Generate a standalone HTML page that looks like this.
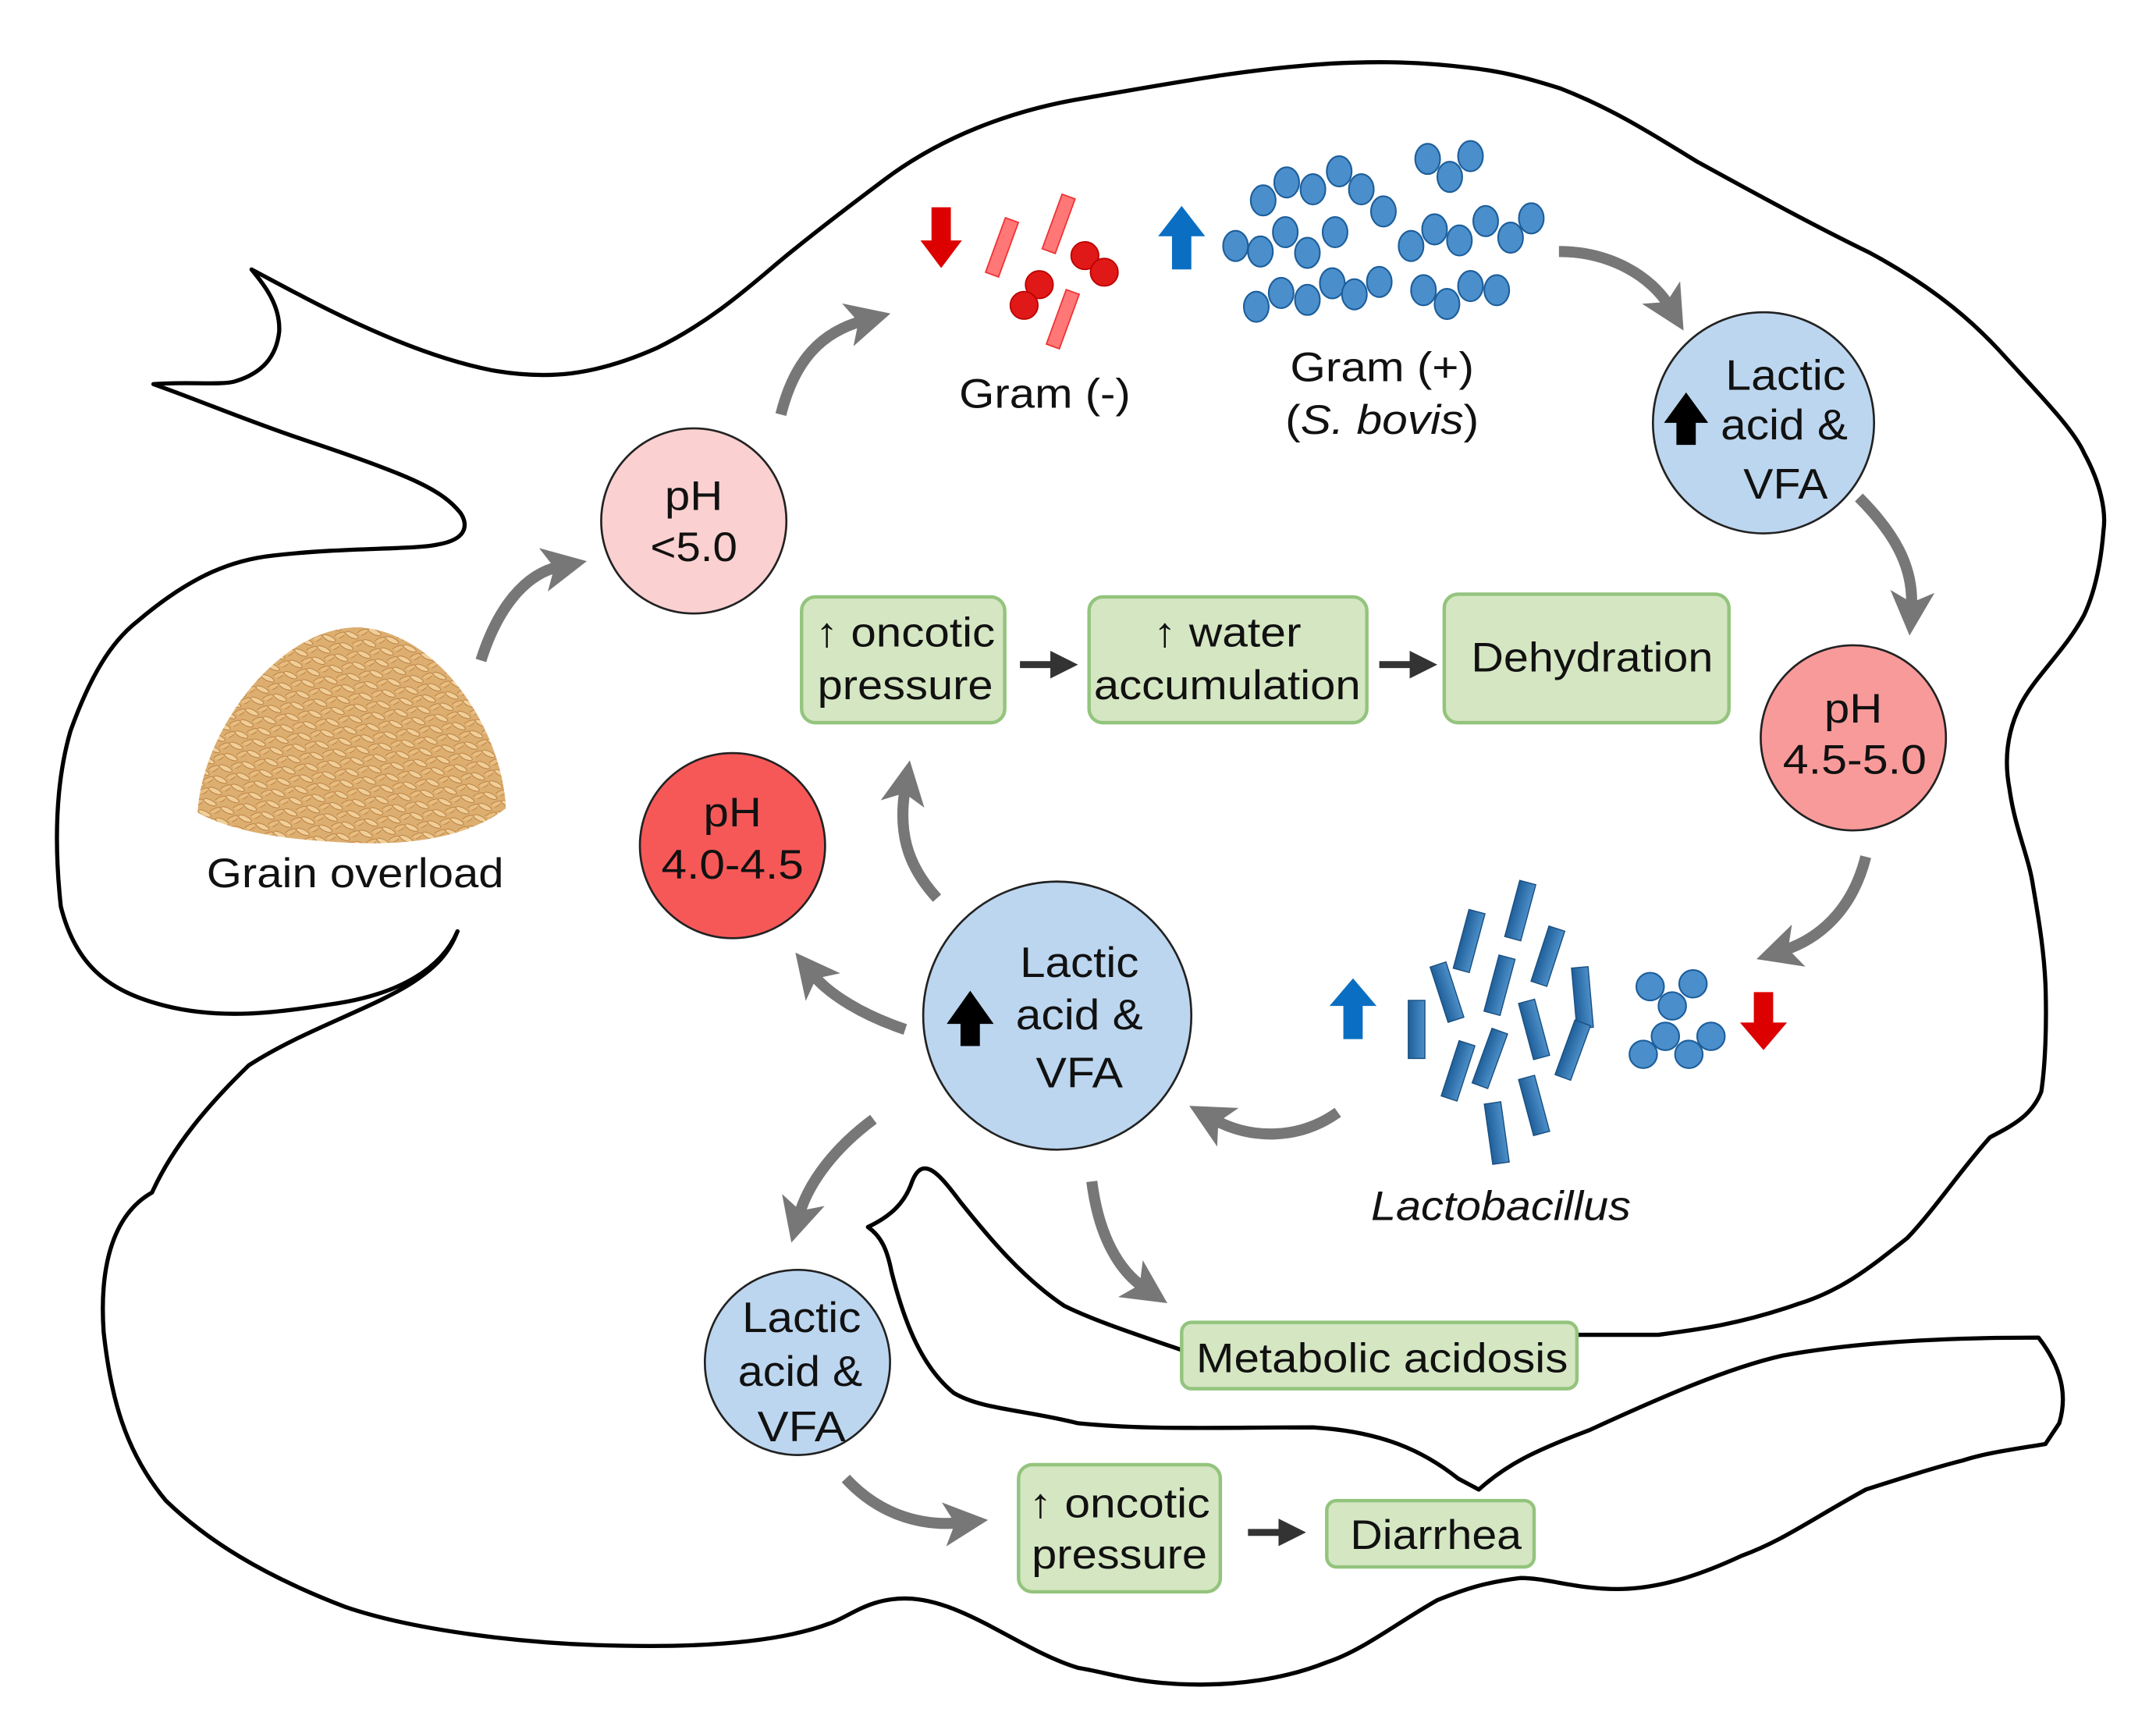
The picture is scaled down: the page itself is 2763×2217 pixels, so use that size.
<!DOCTYPE html>
<html><head><meta charset="utf-8"><style>
html,body{margin:0;padding:0;background:#fff}
svg{display:block}
text{font-family:"Liberation Sans",sans-serif;fill:#111}
</style></head><body>
<svg width="2763" height="2217" viewBox="0 0 1560 1252" preserveAspectRatio="none" xmlns="http://www.w3.org/2000/svg">
<defs>
<marker id="ga" markerWidth="4" markerHeight="4" refX="1.5" refY="2" orient="auto" markerUnits="strokeWidth"><path d="M0,0 L4,2 L0,4 L1,2 Z" fill="#777"/></marker>
<marker id="ka" markerWidth="4" markerHeight="4" refX="1" refY="2" orient="auto" markerUnits="strokeWidth"><path d="M0,0 L4,2 L0,4 Z" fill="#333"/></marker>
<pattern id="gp" width="14" height="9" patternUnits="userSpaceOnUse" patternTransform="rotate(25)">
<rect width="14" height="9" fill="#dcae70"/>
<ellipse cx="5" cy="3" rx="5" ry="1.8" fill="#f1cf98" stroke="#b57a3c" stroke-width="0.5"/>
<ellipse cx="11" cy="7" rx="4.5" ry="1.7" fill="#e8bd80" stroke="#b57a3c" stroke-width="0.5" transform="rotate(-50 11 7)"/>
</pattern>
<linearGradient id="rod" x1="0" x2="1"><stop offset="0" stop-color="#1f5f9a"/><stop offset="1" stop-color="#4d8fc8"/></linearGradient>
</defs>
<g fill="none" stroke="#000" stroke-width="3" stroke-linejoin="round" stroke-linecap="round">
<path d="M331,674 C320,700 290,720 238,727 C200,733 160,738 120,728 C80,718 55,700 44,656 C38,600 42,560 51,529 C65,490 80,465 99,450 C140,415 170,405 198,402 C250,396 300,398 317,394 C340,390 338,378 333,371 C320,355 300,345 222,319 C180,305 150,292 111,278 C135,276 160,279 170,276 C190,270 200,258 202,240 C203,220 190,205 182,195 C220,215 290,255 356,268 C396,275 430,272 475,252 C520,230 550,200 574,181 C600,160 620,145 640,130 C680,100 730,80 785,71 C850,60 900,50 963,46 C1000,44 1030,45 1063,49 C1090,52 1110,58 1129,64 C1170,80 1200,100 1228,117 C1270,140 1310,162 1353,183 C1390,203 1420,225 1446,253 C1475,285 1500,310 1508,328 C1520,350 1524,370 1522,384 C1520,410 1515,430 1508,445 C1495,470 1472,490 1462,510 C1452,530 1450,550 1454,571 C1458,600 1468,620 1471,641 C1476,670 1479,690 1480,712 C1481,740 1480,770 1477,790 C1470,808 1455,815 1440,823 C1420,845 1400,875 1380,896 C1350,920 1330,935 1300,944 C1260,958 1230,962 1200,966 L1140,966"/>
<path d="M855,977 C820,965 790,955 770,945 C740,925 715,895 695,870 C680,850 668,835 660,855 C655,870 645,880 628,888 C638,895 642,905 645,920 C655,960 668,990 690,1008 C710,1020 740,1020 780,1030 C830,1035 880,1033 950,1033 C1000,1036 1030,1050 1055,1070 L1070,1078 C1090,1060 1110,1050 1150,1035 C1200,1012 1250,990 1290,981 C1340,972 1400,968 1475,968 C1492,990 1496,1010 1490,1030 L1480,1045"/>
<path d="M1480,1045 C1450,1050 1435,1052 1420,1057 C1400,1062 1375,1070 1350,1078 C1310,1100 1290,1115 1260,1126 C1230,1140 1200,1150 1170,1150 C1140,1150 1120,1142 1100,1142 C1075,1145 1060,1150 1040,1158 C1010,1175 985,1195 960,1203 C930,1215 895,1220 860,1219 C820,1218 800,1210 780,1207 C740,1195 700,1160 660,1157 C630,1155 615,1170 600,1175 C560,1190 500,1192 450,1191 C380,1190 300,1180 250,1163 C190,1140 150,1115 120,1086 C90,1050 80,1010 75,964 C72,920 80,880 110,863 C125,830 150,800 180,771 C220,745 270,730 300,710 C315,700 325,690 331,674"/>
</g>
<path d="M143,588 C146,530 200,455 258,454 C318,456 364,530 366,585 C340,605 300,612 255,610 C210,608 170,603 143,588 Z" fill="url(#gp)"/>
<text x="257" y="642" font-size="30" text-anchor="middle" textLength="215" lengthAdjust="spacingAndGlyphs">Grain overload</text>
<g fill="none" stroke="#777" stroke-width="8" marker-end="url(#ga)">
<path d="M348,478 C360,440 380,415 405,410"/>
<path d="M565,300 C575,260 595,240 625,232"/>
<path d="M1128,182 C1165,182 1195,200 1208,222"/>
<path d="M1345,360 C1370,385 1385,410 1383,440"/>
<path d="M1350,620 C1340,660 1315,680 1290,688"/>
<path d="M968,805 C940,825 905,825 878,810"/>
<path d="M655,745 C625,735 600,720 588,705"/>
<path d="M678,650 C655,625 650,600 655,570"/>
<path d="M632,810 C605,830 585,855 578,880"/>
<path d="M790,855 C795,895 810,920 828,932"/>
<path d="M612,1070 C635,1095 665,1105 695,1102"/>
</g>
<g stroke="#333" stroke-width="5" marker-end="url(#ka)">
<line x1="738" y1="481" x2="765" y2="481"/>
<line x1="998" y1="481" x2="1025" y2="481"/>
<line x1="903" y1="1109" x2="930" y2="1109"/>
</g>
<circle cx="502" cy="377" r="67" fill="#fbd0d0" stroke="#222" stroke-width="1.5"/>
<text x="502" y="369" font-size="30" text-anchor="middle" textLength="42" lengthAdjust="spacingAndGlyphs">pH</text>
<text x="502" y="406" font-size="30" text-anchor="middle" textLength="63" lengthAdjust="spacingAndGlyphs">&lt;5.0</text>
<circle cx="1276" cy="306" r="80" fill="#bcd6ef" stroke="#222" stroke-width="1.5"/>
<text x="1292" y="282" font-size="31" text-anchor="middle" textLength="87" lengthAdjust="spacingAndGlyphs">Lactic</text>
<text x="1291" y="318" font-size="31" text-anchor="middle" textLength="92" lengthAdjust="spacingAndGlyphs">acid &amp;</text>
<text x="1292" y="361" font-size="31" text-anchor="middle" textLength="61" lengthAdjust="spacingAndGlyphs">VFA</text>
<path d="M1213,322 h14 v-16 h9 l-16,-22 l-16,22 h9 z" fill="#000"/>
<circle cx="1341" cy="534" r="67" fill="#f99a9a" stroke="#222" stroke-width="1.5"/>
<text x="1341" y="523" font-size="30" text-anchor="middle" textLength="42" lengthAdjust="spacingAndGlyphs">pH</text>
<text x="1342" y="560" font-size="30" text-anchor="middle" textLength="104" lengthAdjust="spacingAndGlyphs">4.5-5.0</text>
<circle cx="530" cy="612" r="67" fill="#f65858" stroke="#222" stroke-width="1.5"/>
<text x="530" y="598" font-size="30" text-anchor="middle" textLength="42" lengthAdjust="spacingAndGlyphs">pH</text>
<text x="530" y="636" font-size="30" text-anchor="middle" textLength="103" lengthAdjust="spacingAndGlyphs">4.0-4.5</text>
<circle cx="765" cy="735" r="97" fill="#bcd6ef" stroke="#222" stroke-width="1.5"/>
<text x="781" y="707" font-size="31" text-anchor="middle" textLength="86" lengthAdjust="spacingAndGlyphs">Lactic</text>
<text x="781" y="745" font-size="31" text-anchor="middle" textLength="92" lengthAdjust="spacingAndGlyphs">acid &amp;</text>
<text x="781" y="787" font-size="31" text-anchor="middle" textLength="63" lengthAdjust="spacingAndGlyphs">VFA</text>
<path d="M695,757 h14 v-16 h10 l-17,-24 l-17,24 h10 z" fill="#000"/>
<circle cx="577" cy="986" r="67" fill="#bcd6ef" stroke="#222" stroke-width="1.5"/>
<text x="580" y="964" font-size="31" text-anchor="middle" textLength="86" lengthAdjust="spacingAndGlyphs">Lactic</text>
<text x="579" y="1003" font-size="31" text-anchor="middle" textLength="90" lengthAdjust="spacingAndGlyphs">acid &amp;</text>
<text x="580" y="1043" font-size="31" text-anchor="middle" textLength="64" lengthAdjust="spacingAndGlyphs">VFA</text>
<g fill="#d5e6c2" stroke="#93c47d" stroke-width="2.5">
<rect x="580" y="432" width="147" height="91" rx="10"/>
<rect x="788" y="432" width="201" height="91" rx="10"/>
<rect x="1045" y="430" width="206" height="93" rx="10"/>
<rect x="855" y="957" width="286" height="48" rx="7"/>
<rect x="737" y="1060" width="146" height="92" rx="10"/>
<rect x="960" y="1086" width="150" height="48" rx="7"/>
</g>
<g font-size="30" text-anchor="middle">
<text x="655" y="468" textLength="130" lengthAdjust="spacingAndGlyphs">↑ oncotic</text><text x="655" y="506" textLength="127" lengthAdjust="spacingAndGlyphs">pressure</text>
<text x="888" y="468" textLength="107" lengthAdjust="spacingAndGlyphs">↑ water</text><text x="888" y="506" textLength="193" lengthAdjust="spacingAndGlyphs">accumulation</text>
<text x="1152" y="486" textLength="175" lengthAdjust="spacingAndGlyphs">Dehydration</text>
<text x="1000" y="993" textLength="269" lengthAdjust="spacingAndGlyphs">Metabolic acidosis</text>
<text x="810" y="1098" textLength="131" lengthAdjust="spacingAndGlyphs">↑ oncotic</text><text x="810" y="1135" textLength="127" lengthAdjust="spacingAndGlyphs">pressure</text>
<text x="1039" y="1121" textLength="124" lengthAdjust="spacingAndGlyphs">Diarrhea</text>
</g>
<path d="M674,150 h14 v24 h8 l-15,20 l-15,-20 h8 z" fill="#d00"/>
<g fill="#f77" stroke="#e33" stroke-width="1">
<rect x="720" y="158" width="10" height="42" transform="rotate(20 725 179)"/>
<rect x="761" y="141" width="10" height="42" transform="rotate(20 766 162)"/>
<rect x="764" y="210" width="10" height="42" transform="rotate(20 769 231)"/>
</g>
<g fill="#e01818" stroke="#b00" stroke-width="1">
<circle cx="785" cy="185" r="10"/><circle cx="799" cy="197" r="10"/>
<circle cx="752" cy="206" r="10"/><circle cx="741" cy="221" r="10"/>
</g>
<text x="756" y="295" font-size="30" text-anchor="middle" textLength="124" lengthAdjust="spacingAndGlyphs">Gram (-)</text>
<path d="M848,195 h14 v-24 h10 l-17,-22 l-17,22 h10 z" fill="#0a6fc2"/>
<g fill="#4a8fcc" stroke="#1d5e9a" stroke-width="1.2">
<ellipse cx="1033" cy="115" rx="9" ry="11"/><ellipse cx="1064" cy="113" rx="9" ry="11"/><ellipse cx="1049" cy="128" rx="9" ry="11"/>
<ellipse cx="914" cy="145" rx="9" ry="11"/><ellipse cx="931" cy="132" rx="9" ry="11"/><ellipse cx="950" cy="137" rx="9" ry="11"/><ellipse cx="969" cy="124" rx="9" ry="11"/><ellipse cx="985" cy="137" rx="9" ry="11"/><ellipse cx="1001" cy="153" rx="9" ry="11"/>
<ellipse cx="894" cy="178" rx="9" ry="11"/><ellipse cx="912" cy="182" rx="9" ry="11"/><ellipse cx="930" cy="168" rx="9" ry="11"/><ellipse cx="946" cy="183" rx="9" ry="11"/><ellipse cx="966" cy="168" rx="9" ry="11"/>
<ellipse cx="1021" cy="178" rx="9" ry="11"/><ellipse cx="1038" cy="166" rx="9" ry="11"/><ellipse cx="1056" cy="174" rx="9" ry="11"/><ellipse cx="1075" cy="160" rx="9" ry="11"/><ellipse cx="1093" cy="172" rx="9" ry="11"/><ellipse cx="1108" cy="158" rx="9" ry="11"/>
<ellipse cx="909" cy="222" rx="9" ry="11"/><ellipse cx="927" cy="212" rx="9" ry="11"/><ellipse cx="946" cy="217" rx="9" ry="11"/><ellipse cx="964" cy="205" rx="9" ry="11"/><ellipse cx="980" cy="213" rx="9" ry="11"/><ellipse cx="998" cy="204" rx="9" ry="11"/>
<ellipse cx="1030" cy="210" rx="9" ry="11"/><ellipse cx="1047" cy="220" rx="9" ry="11"/><ellipse cx="1064" cy="207" rx="9" ry="11"/><ellipse cx="1083" cy="210" rx="9" ry="11"/>
</g>
<text x="1000" y="276" font-size="30" text-anchor="middle" textLength="133" lengthAdjust="spacingAndGlyphs">Gram (+)</text>
<text x="1000" y="314" font-size="30" text-anchor="middle" textLength="140" lengthAdjust="spacingAndGlyphs">(<tspan font-style="italic">S. bovis</tspan>)</text>
<path d="M972,752 h14 v-24 h10 l-17,-20 l-17,20 h10 z" fill="#0a6fc2"/>
<g fill="url(#rod)" stroke="#1a4f80" stroke-width="0.8">
<rect x="1094" y="638" width="12" height="42" transform="rotate(15 1100 659)"/>
<rect x="1057" y="659" width="12" height="44" transform="rotate(15 1063 681)"/>
<rect x="1114" y="671" width="12" height="42" transform="rotate(18 1120 692)"/>
<rect x="1041" y="697" width="12" height="42" transform="rotate(-18 1047 718)"/>
<rect x="1079" y="692" width="12" height="42" transform="rotate(15 1085 713)"/>
<rect x="1139" y="700" width="12" height="44" transform="rotate(-5 1145 722)"/>
<rect x="1019" y="724" width="12" height="42"/>
<rect x="1104" y="724" width="12" height="42" transform="rotate(-15 1110 745)"/>
<rect x="1049" y="754" width="12" height="42" transform="rotate(18 1055 775)"/>
<rect x="1072" y="745" width="12" height="42" transform="rotate(20 1078 766)"/>
<rect x="1132" y="739" width="12" height="42" transform="rotate(20 1138 760)"/>
<rect x="1104" y="779" width="12" height="42" transform="rotate(-15 1110 800)"/>
<rect x="1077" y="798" width="12" height="44" transform="rotate(-8 1083 820)"/>
</g>
<g fill="#4a8fcc" stroke="#1d5e9a" stroke-width="1.2">
<circle cx="1194" cy="714" r="10"/><circle cx="1225" cy="712" r="10"/><circle cx="1210" cy="728" r="10"/>
<circle cx="1189" cy="763" r="10"/><circle cx="1205" cy="750" r="10"/><circle cx="1222" cy="763" r="10"/><circle cx="1238" cy="750" r="10"/>
</g>
<path d="M1269,718 h14 v22 h10 l-17,20 l-17,-20 h10 z" fill="#d00"/>
<text x="1086" y="883" font-size="30" font-style="italic" text-anchor="middle" textLength="188" lengthAdjust="spacingAndGlyphs">Lactobacillus</text>
</svg>
</body></html>
